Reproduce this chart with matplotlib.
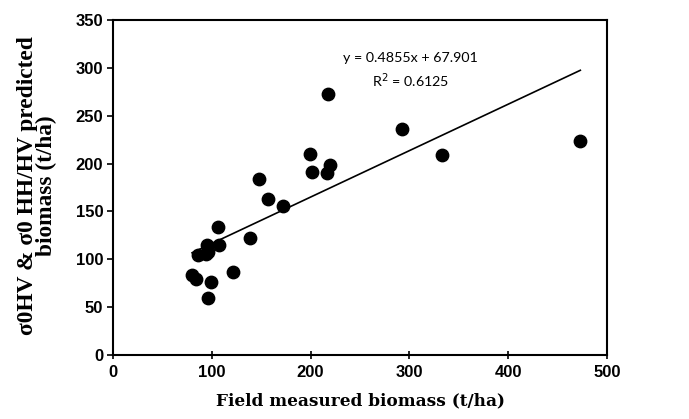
import matplotlib
matplotlib.use("Agg")
import matplotlib.pyplot as plt
import numpy as np

field_biomass = [218, 293, 473, 333, 199, 220, 201, 217, 148, 157, 172, 106, 139,
                 107, 95, 96, 94, 86, 80, 84, 121, 99, 96]
predicted_biomass = [273, 236, 224, 209, 210, 199, 191, 190, 184, 163, 156, 134, 122,
                     115, 115, 108, 105, 104, 84, 79, 87, 76, 60]
slope = 0.4855
intercept = 67.901
r2 = 0.6125
x_ticks = [0, 100, 200, 300, 400, 500]
y_ticks = [0, 50, 100, 150, 200, 250, 300, 350]

fig = plt.figure(figsize=(6.89, 4.19), dpi=100)
ax = fig.add_axes([0.164, 0.153, 0.717, 0.799])

ax.scatter(field_biomass, predicted_biomass, s=80, color="black", zorder=3)
xs = np.array([min(field_biomass), max(field_biomass)])
ax.plot(xs, slope * xs + intercept, color="black", lw=1.2, zorder=2)

ax.text(301, 310, f"y = {slope}x + {intercept}", ha="center", va="center",
        fontsize=10.3, family="Lato")
ax.text(301, 287, f"R$^2$ = {r2}", ha="center", va="center",
        fontsize=10.3, family="Lato")

ax.set_xlim(0, 500)
ax.set_ylim(0, 350)
ax.set_xticks(x_ticks)
ax.set_yticks(y_ticks)
for lab in ax.get_xticklabels() + ax.get_yticklabels():
    lab.set_fontweight("bold")
    lab.set_fontsize(12)
    lab.set_family("Liberation Sans")
ax.tick_params(axis="x", direction="inout", length=6, width=1.2, pad=4)
ax.tick_params(axis="y", direction="out", length=4, width=1.2, pad=3)
for sp in ax.spines.values():
    sp.set_linewidth(1.5)
    sp.set_color("black")

ax.set_xlabel("Field measured biomass (t/ha)", fontsize=12.2, fontweight="bold",
              family="DejaVu Serif")
ax.xaxis.set_label_coords(0.5, -0.112)
ax.set_ylabel("σ0HV & σ0 HH/HV predicted\nbiomass (t/ha)", fontsize=16.8,
              fontweight="bold", family="Liberation Serif", linespacing=0.85)
ax.yaxis.set_label_coords(-0.113, 0.505)

fig.savefig("out.png", dpi=100)
